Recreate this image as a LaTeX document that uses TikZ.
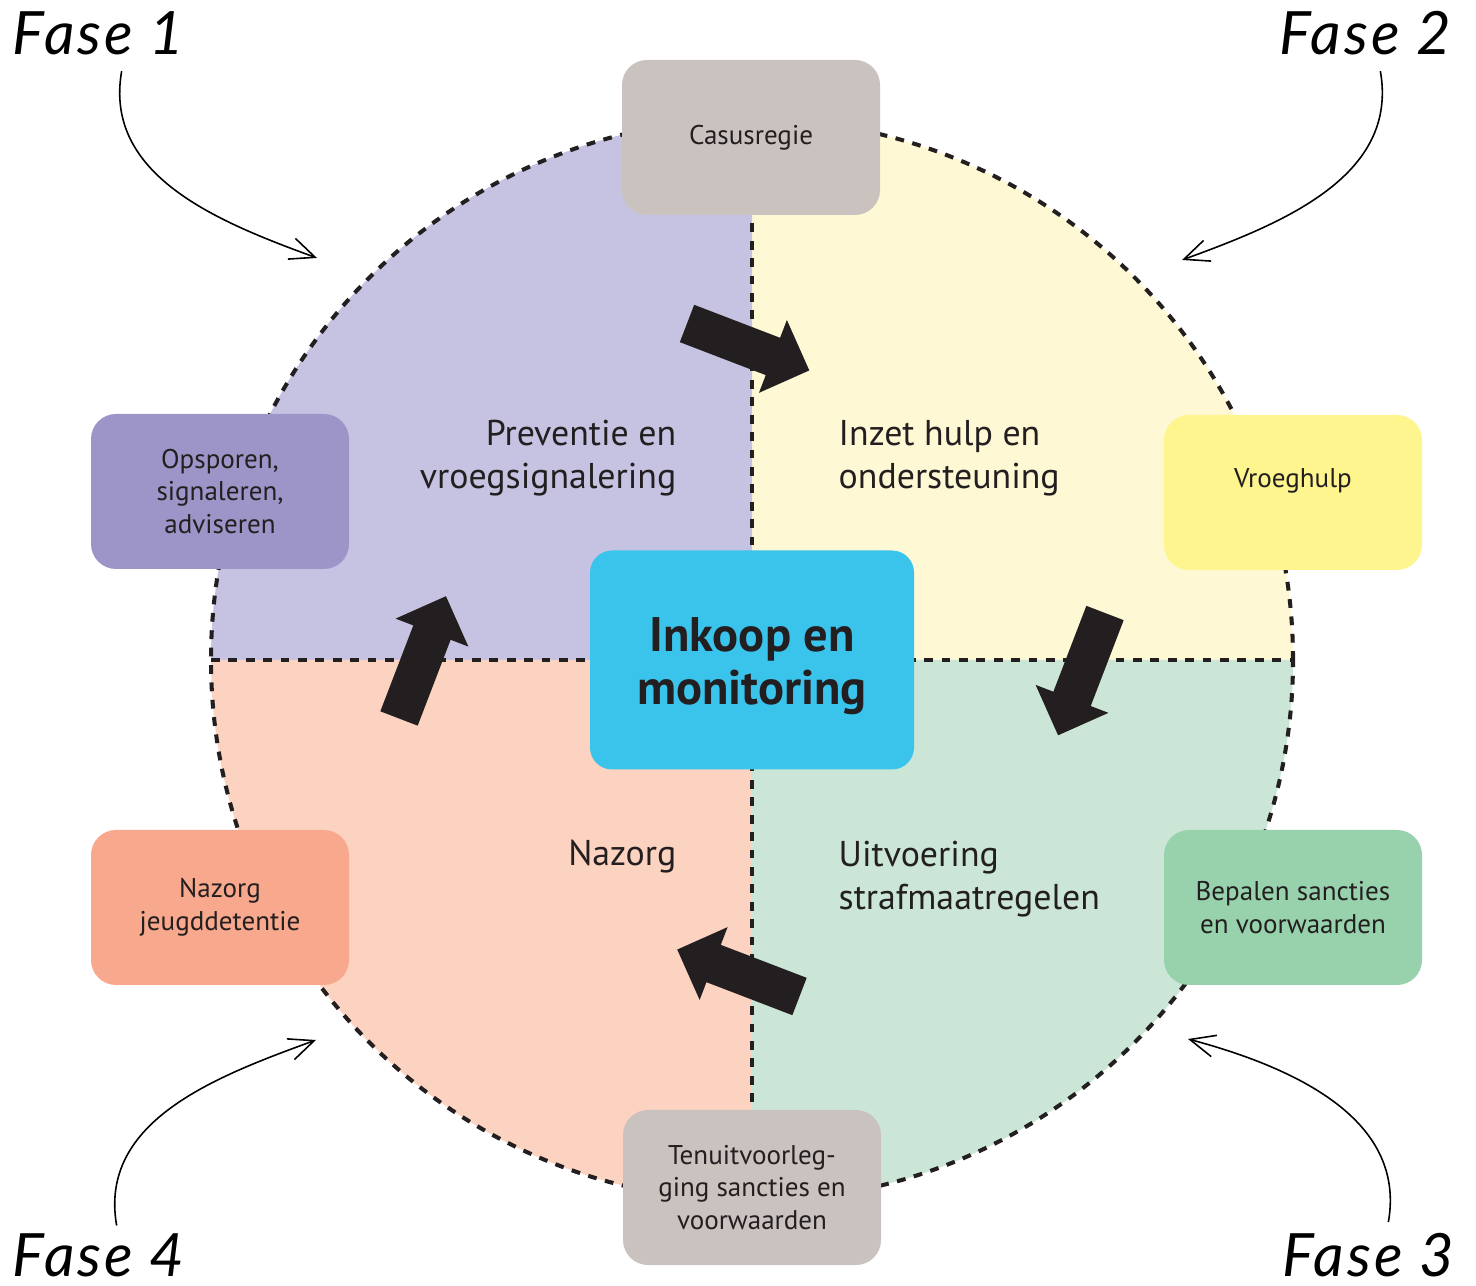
\documentclass[tikz,border=0pt]{standalone}
\usepackage{fontspec}
\setmainfont{PT Sans}
\newfontfamily\fasefont{Lato}[LetterSpace=5]
\usetikzlibrary{arrows.meta}

\definecolor{quadTL}{HTML}{C6C3E2}
\definecolor{quadTR}{HTML}{FEF9D4}
\definecolor{quadBR}{HTML}{CBE6D6}
\definecolor{quadBL}{HTML}{FCD3C1}
\definecolor{boxPurple}{HTML}{9D94C7}
\definecolor{boxYellow}{HTML}{FEF58E}
\definecolor{boxGreen}{HTML}{98D2AD}
\definecolor{boxSalmon}{HTML}{F8A88C}
\definecolor{boxGrey}{HTML}{C9C2BF}
\definecolor{boxBlue}{HTML}{3AC4EC}
\definecolor{inkDark}{HTML}{231F20}

\tikzset{
  phasebox/.style={rounded corners=2.5mm, minimum width=2.58cm, minimum height=1.55cm,
    align=center, text=inkDark, inner sep=0pt, font=\fontsize{7.7}{9.3}\selectfont},
  centrebox/.style={fill=boxBlue, rounded corners=2.2mm, minimum width=3.24cm, minimum height=2.19cm},
  centretext/.style={align=center, text=inkDark, inner sep=0pt, font=\bfseries\fontsize{13.8}{14.9}\selectfont},
  divider/.style={inkDark, line width=1.15pt, dash pattern=on 2.5pt off 2.45pt},
  quadtext/.style={text=inkDark, inner sep=0pt, font=\fontsize{10.2}{12.2}\selectfont},
  fasetext/.style={inner sep=0pt, font=\fasefont\itshape\fontsize{17}{20}\selectfont},
  fasearrow/.style={line width=0.45pt, -{Straight Barb[length=2.5mm,width=2.2mm]}},
}

\def\rad{5.41}
\def\blockArrow{%
    \fill [inkDark] (0,-0.2)--(0.92,-0.2)--(0.92,-0.39)--(1.31,0)--(0.92,0.39)--(0.92,0.2)--(0,0.2)--cycle;
}

\begin{document}
\begin{tikzpicture}
\useasboundingbox (0,0) rectangle (14.76,12.85);
\coordinate (centre) at (7.52,6.25);
\foreach \start/\col in {0/quadTR,90/quadTL,180/quadBL,270/quadBR}
{
	\fill [\col] (centre) -- ++(\start:\rad) arc [start angle=\start, delta angle=90, radius=\rad] -- cycle;
}
\path (centre) ++(180:\rad) coordinate (rimW) ++(2*\rad,0) coordinate (rimE);
\path (centre) ++(90:\rad) coordinate (rimN) ++(0,-2*\rad) coordinate (rimS);
\draw [divider] (centre) circle (\rad);
\draw [divider] (rimW) -- (rimE);
\draw [divider] (rimN) -- (rimS);

\node [phasebox, fill=boxGrey] (casus) at (7.51,11.475) {Casusregie};
\node [phasebox, fill=boxPurple] (opsporen) at (2.20,7.935) {Opsporen,\\signaleren,\\adviseren};
\node [phasebox, fill=boxYellow] (vroeghulp) at (12.93,7.925) {\raisebox{2.8mm}{Vroeghulp}};
\node [phasebox, fill=boxSalmon] (nazorgjd) at (2.20,3.775) {Nazorg\\jeugddetentie};
\node [phasebox, fill=boxGreen] (bepalen) at (12.93,3.775) {Bepalen sancties\\en voorwaarden};
\node [phasebox, fill=boxGrey] (tenuit) at (7.52,0.975) {Tenuitvoorleg-\\ging sancties en\\voorwaarden};
\node [centrebox] (inkoop) at (centre) {};
\node [centretext] (inkooptext) at ([yshift=-0.6mm]inkoop.center) {Inkoop en\\monitoring};

\node [quadtext, anchor=east, align=right] (preventie) at (6.77,8.27) {Preventie en\\vroegsignalering};
\node [quadtext, anchor=west, align=left] (inzet) at (8.38,8.27) {Inzet hulp en\\ondersteuning};
\node [quadtext, anchor=base east] (nazorg) at (6.77,4.19) {Nazorg};
\node [quadtext, anchor=west, align=left] (uitvoering) at (8.38,4.06) {Uitvoering\\strafmaatregelen};

\foreach \ang/\x/\y in {-21/6.87/9.615, -111/11.05/6.72, 159/7.995/2.885, 69/3.99/5.665}
{
	\begin{scope}[shift={(\x,\y)}, rotate=\ang]
		\blockArrow
	\end{scope}
}

\node [fasetext, anchor=base west] (fase1) at (0.12,12.30) {Fase 1};
\node [fasetext, anchor=base east] (fase2) at (14.52,12.30) {Fase 2};
\node [fasetext, anchor=base east] (fase3) at (14.55,0.09) {Fase 3};
\node [fasetext, anchor=base west] (fase4) at (0.12,0.09) {Fase 4};
\coordinate (rim1) at (3.17,10.27);
\coordinate (rim2) at (11.82,10.25);
\coordinate (rim3) at (11.88,2.46);
\coordinate (rim4) at (3.16,2.45);
\draw [fasearrow] ([xshift=2.3mm,yshift=-1.5mm]fase1.south) to [out=-100,in=160] (rim1);
\draw [fasearrow] ([xshift=1.5mm,yshift=-1.5mm]fase2.south) to [out=-80,in=20] (rim2);
\draw [fasearrow] ([xshift=2mm,yshift=1mm]fase3.north) to [out=80,in=-15] (rim3);
\draw [fasearrow] ([xshift=1.8mm,yshift=0.7mm]fase4.north) to [out=100,in=-160] (rim4);
\end{tikzpicture}
\end{document}
